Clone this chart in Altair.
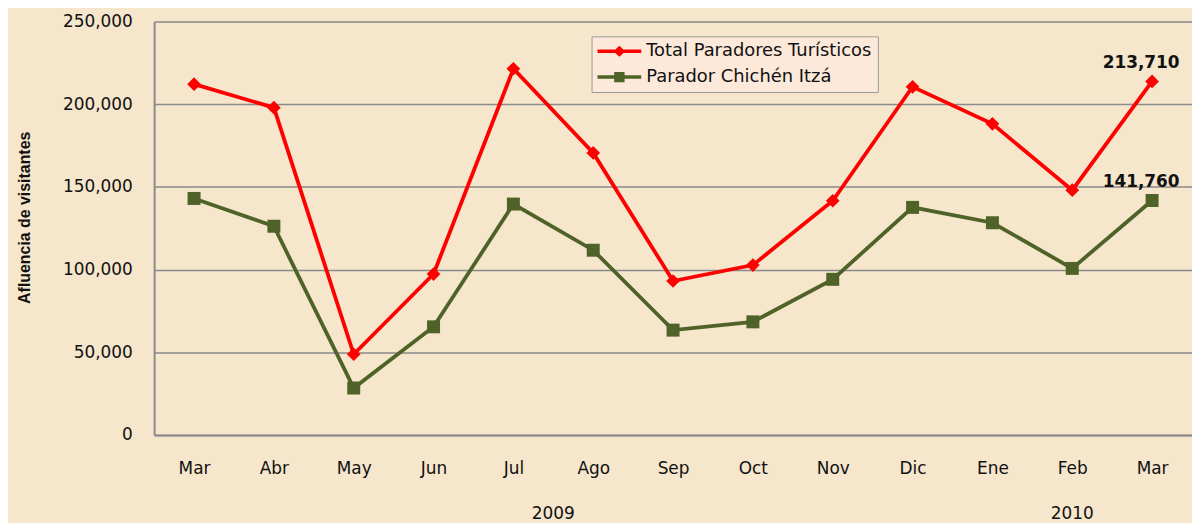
import altair as alt
import pandas as pd

months = ["Mar", "Abr", "May", "Jun", "Jul", "Ago", "Sep", "Oct", "Nov", "Dic", "Ene", "Feb", "Mar"]
years = ["2009"] * 10 + ["2010"] * 3
total = [212100, 197900, 48800, 97300, 221400, 170500, 93100, 102700, 141600, 210500, 188100, 148000, 213710]
chichen = [143000, 126200, 28400, 65400, 139600, 111700, 63400, 68400, 94100, 137600, 128300, 100700, 141760]
series = ["Total Paradores Turísticos", "Parador Chichén Itzá"]
colors = ["#FF0000", "#4F6228"]
y_ticks = [0, 50000, 100000, 150000, 200000, 250000]

rows = []
for i, m in enumerate(months):
    rows.append({"idx": i, "mes": m, "anio": years[i], "serie": series[0], "valor": total[i]})
    rows.append({"idx": i, "mes": m, "anio": years[i], "serie": series[1], "valor": chichen[i]})
df = pd.DataFrame(rows)
last = df[df["idx"] == len(months) - 1]
year_df = pd.DataFrame({"idx": list(range(len(months))), "anio": years}).groupby("anio", as_index=False)["idx"].mean()

label_expr = "[" + ",".join("'%s'" % m for m in months) + "][datum.value]"

FONT = "DejaVu Sans"
W, H = 1044, 416

x_axis = alt.Axis(
    values=list(range(len(months))), labelExpr=label_expr, title=None, grid=False,
    ticks=False, labelPadding=26, labelFontSize=17, labelFont=FONT, labelColor="#111",
    domainColor="#8a8a8a", domainWidth=2, labelFlush=False,
)
y_axis = alt.Axis(
    values=y_ticks, format=",.0f", title="Afluencia de visitantes", ticks=False,
    labelPadding=22, labelFontSize=17, labelFont=FONT, labelColor="#111",
    domainColor="#8a8a8a", domainWidth=2, gridColor="#8a8a8a", gridWidth=1.5,
    titleFont="Liberation Sans Narrow, Liberation Sans", titleFontSize=16, titleFontWeight="bold",
    titleColor="#111", titleX=-130, titleY=197, titleAngle=-90, titleAlign="center",
    titleBaseline="middle",
)
x_enc = alt.X("idx:Q", scale=alt.Scale(domain=[-0.5, len(months) - 0.5], nice=False, zero=False), axis=x_axis)
y_enc = alt.Y("valor:Q", scale=alt.Scale(domain=[0, 250000], nice=False), axis=y_axis)
color_scale = alt.Scale(domain=series, range=colors)

# legend glyphs: a thick line segment (filled bar) with the series marker on its middle
bar = "M-4,-0.32L4,-0.32L4,0.32L-4,0.32Z"
sym_diamond = bar + "M0,-1L1.1,0L0,1L-1.1,0Z"
sym_square = bar + "M-0.95,-0.95L0.95,-0.95L0.95,0.95L-0.95,0.95Z"
shape_sig = "datum.value == '%s' ? '%s' : '%s'" % (series[0], sym_diamond, sym_square)
fill_sig = "datum.value == '%s' ? '%s' : '%s'" % (series[0], colors[0], colors[1])

legend = alt.Legend(
    title=None, orient="none", legendX=440, legendY=15,
    fillColor="#FCE9DA", strokeColor="#9a9a9a", padding=6,
    labelFont=FONT, labelFontSize=18, labelColor="#111", labelLimit=500,
    symbolSize=121, symbolStrokeWidth=0, symbolOffset=13, labelOffset=18, rowPadding=8,
    symbolType=alt.ExprRef(expr=shape_sig),
    symbolFillColor=alt.ExprRef(expr=fill_sig),
)

base = alt.Chart(df)

lines = base.mark_line(strokeWidth=3.8).encode(
    x=x_enc, y=y_enc,
    color=alt.Color("serie:N", scale=color_scale, legend=legend),
)
points_total = base.transform_filter(alt.datum.serie == series[0]).mark_point(
    filled=True, opacity=1, shape="diamond", size=190, color=colors[0]
).encode(x=x_enc, y=y_enc)
points_chichen = base.transform_filter(alt.datum.serie == series[1]).mark_point(
    filled=True, opacity=1, shape="square", size=170, color=colors[1]
).encode(x=x_enc, y=y_enc)

labels = alt.Chart(last).mark_text(
    font=FONT, fontSize=17, fontWeight="bold", color="#111", dx=-11, dy=-19, baseline="middle"
).encode(x=x_enc, y=y_enc, text=alt.Text("valor:Q", format=","))

year_labels = alt.Chart(year_df).mark_text(
    font=FONT, fontSize=17, color="#111", baseline="middle"
).encode(x=x_enc, y=alt.value(H + 79), text="anio:N")

chart = alt.layer(lines, points_total, points_chichen, labels, year_labels).properties(
    width=W, height=H,
    autosize=alt.AutoSizeParams(type="none"),
    padding={"left": 147, "top": 12, "right": 0, "bottom": 87},
    background="#F5E6CC",
).configure_view(stroke=None)

chart.save("out.html", embed_options={"renderer": "svg", "actions": False})
